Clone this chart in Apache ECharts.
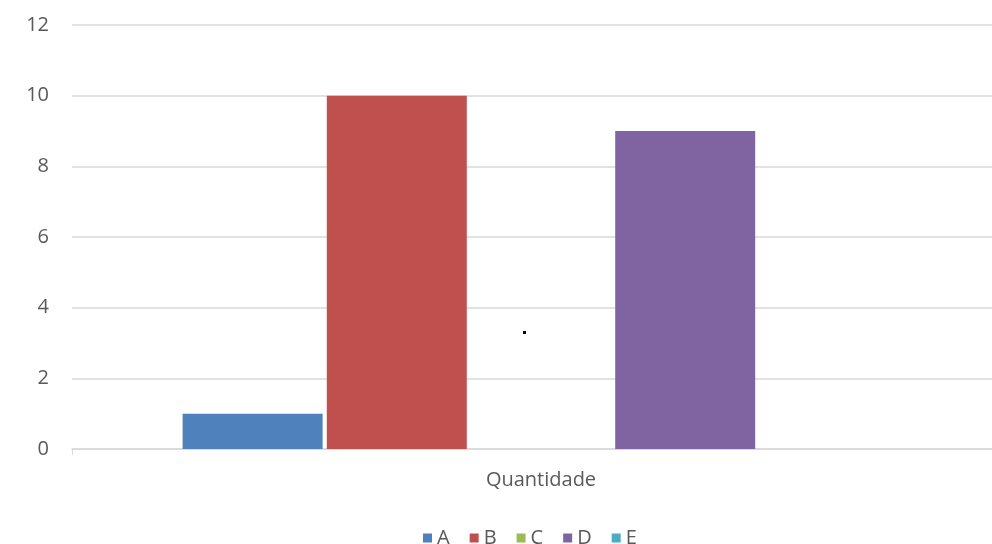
<!DOCTYPE html>
<html>
<head>
<meta charset="utf-8">
<script src="https://cdn.jsdelivr.net/npm/echarts@6/dist/echarts.min.js"></script>
<style>
  html, body { margin: 0; padding: 0; background: #fff; overflow: hidden; }
  #chart { width: 1010px; height: 544px; }
</style>
</head>
<body>
<div id="chart"></div>
<script>
// dados do gráfico
var categorias = ['Quantidade'];
var series_nomes = ['A', 'B', 'C', 'D', 'E'];
var valores = [1, 10, 0, 9, 0];
var cores = ['#4f81bd', '#c0504d', '#9bbb59', '#8064a2', '#4bacc6'];
var yTicks = [0, 2, 4, 6, 8, 10, 12];

var chart = echarts.init(document.getElementById('chart'));

var fonte = '"Open Sans", sans-serif';

var series = series_nomes.map(function (nome, i) {
    return {
        name: nome,
        type: 'bar',
        data: [valores[i]],
        barWidth: 140,
        barGap: '3%',
        itemStyle: { color: cores[i] }
    };
});

var option = {
    animation: false,
    backgroundColor: '#fff',
    grid: { left: 72, right: 0, top: 25, bottom: 95 },
    legend: {
        data: series_nomes,
        left: 418,
        top: 523,
        icon: 'rect',
        itemWidth: 9,
        itemHeight: 9,
        itemGap: 20,
        textStyle: { color: '#595959', fontSize: 20, fontFamily: fonte }
    },
    xAxis: {
        type: 'category',
        data: categorias,
        axisLine: { lineStyle: { color: '#d9d9d9', width: 1.5 } },
        axisTick: { show: true, length: 6, lineStyle: { color: '#d9d9d9' } },
        axisLabel: { color: '#595959', fontSize: 20, fontFamily: fonte, margin: 21 }
    },
    yAxis: {
        type: 'value',
        min: yTicks[0],
        max: yTicks[yTicks.length - 1],
        interval: 2,
        axisLine: { show: false },
        axisTick: { show: false },
        splitLine: { lineStyle: { color: '#d9d9d9', width: 1.5 } },
        axisLabel: { color: '#595959', fontSize: 20, fontFamily: fonte, margin: 23 }
    },
    graphic: [{
        type: 'rect',
        shape: { x: 523, y: 331, width: 3, height: 3 },
        style: { fill: '#000' }
    }],
    series: series
};

chart.setOption(option);
</script>
</body>
</html>
